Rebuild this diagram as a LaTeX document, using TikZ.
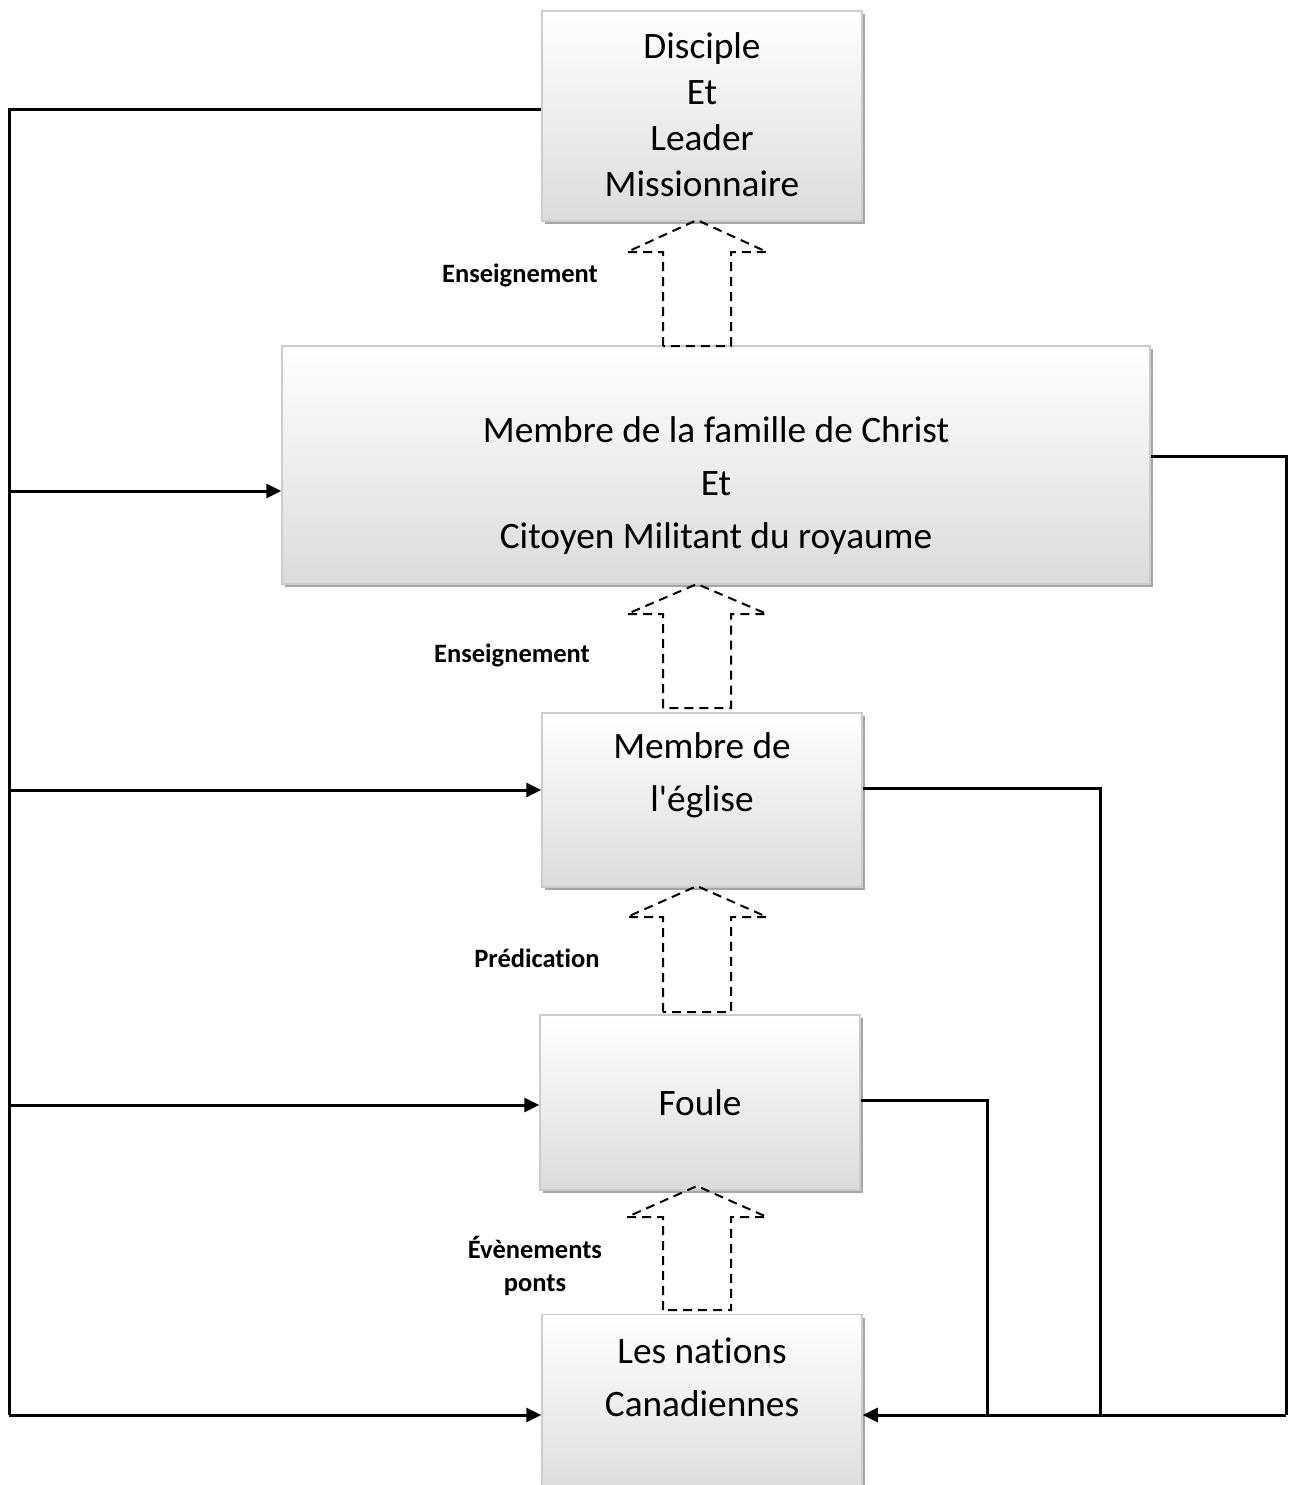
\documentclass[tikz,border=0pt]{standalone}
\usepackage{fontspec}
\setmainfont{Carlito}[Ligatures={NoCommon}]
\usetikzlibrary{arrows.meta,shadows}
\tikzset{
  box/.style={draw=black!20, line width=1.5pt, top color=white, bottom color=black!14,
    inner sep=0pt, drop shadow={shadow xshift=3pt, shadow yshift=-3pt, fill=black!35, opacity=1}},
  boxtext/.style={align=center, font=\fontsize{37.3}{46}\selectfont, inner sep=0pt},
  widetext/.style={boxtext, font=\fontsize{37.3}{53}\selectfont},
  lbl/.style={align=center, font=\fontsize{26.5}{33}\selectfont\bfseries, inner sep=0pt},
  blockarr/.style={draw=black, line width=2pt, dash pattern=on 9pt off 6pt},
  wire/.style={draw=black, line width=3pt},
  conn/.style={wire, -{Triangle[length=15pt,width=14pt]}}
}
\begin{document}
\begin{tikzpicture}[x=1pt,y=-1pt]
\useasboundingbox (0,0) rectangle (1288,1485);
% boxes
\node[box, minimum width=320pt, minimum height=210pt] (b1) at (702,116) {};
\node[box, minimum width=868pt, minimum height=238pt] (b2) at (716,465) {};
\node[box, minimum width=320pt, minimum height=174pt] (b3) at (702,800) {};
\node[box, minimum width=320pt, minimum height=175pt] (b4) at (700,1102.5) {};
\node[box, minimum width=320pt, minimum height=185pt] (b5) at (702,1407) {};
% texts
\node[boxtext] (t1) at (702,114.5) {Disciple\\Et\\Leader\\Missionnaire};
\node[widetext] (t2) at (716,486) {Membre de la famille de Christ\\Et\\Citoyen Militant du royaume};
\node[widetext] (t3) at (702,775) {Membre de\\l\textquotesingle église};
\node[boxtext] (t4) at (700,1103) {Foule};
\node[widetext] (t5) at (702,1377) {Les nations\\Canadiennes};
% labels
\node[lbl] (l1) at (520,275) {Enseignement};
\node[lbl] (l2) at (512,655) {Enseignement};
\node[lbl] (l3) at (537,958) {Prédication};
\node[lbl] (l4) at (535,1266) {Évènements\\ponts};
% dashed block arrows
\foreach \tip/\head/\bot in {220/252/346, 584/614/708, 886/917/1012, 1186/1217/1310}{
  \draw[blockarr] (663,\bot) -- (663,\head) -- (627,\head) -- (697,\tip) -- (767,\head) -- (731,\head) -- (731,\bot) -- cycle;
}
% left connectors
\coordinate (Ltop) at (9,110);
\coordinate (L2) at (9,491);
\coordinate (L3) at (9,790);
\coordinate (L4) at (9,1105);
\coordinate (L5) at (9,1415);
\draw[wire] (Ltop -| b1.west) -- (Ltop) -- (L5);
\draw[conn] (L2) -- (L2 -| b2.west);
\draw[conn] (L3) -- (L3 -| b3.west);
\draw[conn] (L4) -- (L4 -| b4.west);
\draw[conn] (L5) -- (L5 -| b5.west);
% right connectors
\coordinate (R2) at (1286,456);
\coordinate (R3) at (1100,788);
\coordinate (R4) at (987,1100);
\coordinate (Rb) at (1286,1415);
\draw[wire] (R2 -| b2.east) -- (R2) -- (Rb);
\draw[wire] (R3 -| b3.east) -- (R3) -- (R3 |- Rb);
\draw[wire] (R4 -| b4.east) -- (R4) -- (R4 |- Rb);
\draw[conn] (Rb) -- (Rb -| b5.east);
\end{tikzpicture}
\end{document}
